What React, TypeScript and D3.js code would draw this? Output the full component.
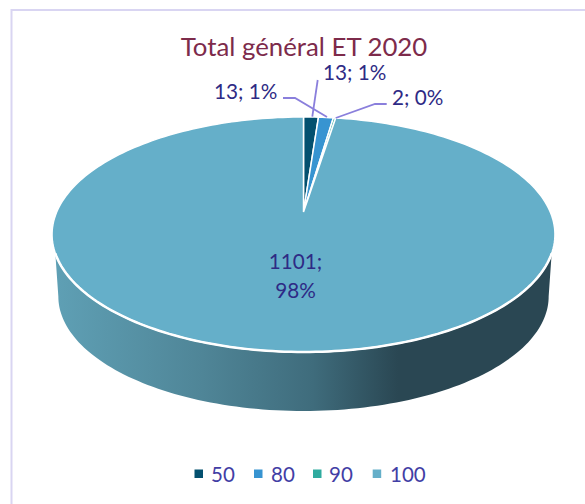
import React from "react";
import * as d3 from "d3";

const title = "Total général ET 2020";
const categories = ["50", "80", "90", "100"];
const values = [13, 13, 2, 1101];
const percents = ["1%", "1%", "0%", "98%"];
const colors = ["#03506f", "#3794d1", "#2fab9f", "#65afc9"];

const CX = 303.5;
const Y0 = 212;
const A = 246.8;
const B = 113.2;
const P = 0.1915;
const FONT = "Lato, sans-serif";

function project(theta: number, level: number): [number, number] {
  const u = Math.sin(theta);
  const v = Math.cos(theta);
  const w = 1 + P * v;
  const s = level === 0 ? 1 : 0.975;
  const y0 = level === 0 ? Y0 : 274.5;
  return [CX + (A * s * u) / w, y0 - (B * s * v) / w];
}

const lineGen = d3.line<[number, number]>();

function arcPts(a0: number, a1: number, level: number, n = 120): [number, number][] {
  return d3.range(n + 1).map((i) => project(a0 + ((a1 - a0) * i) / n, level));
}

export default function App() {
  const pie = d3.pie<number>().sort(null)(values);
  const d2r = Math.PI / 180;
  const rimLeft = 250 * d2r;
  const rimRight = 110 * d2r;
  const baseLeft = 259 * d2r;
  const baseRight = 101 * d2r;
  const wallPath = lineGen([...arcPts(rimRight, rimLeft, 0), ...arcPts(baseLeft, baseRight, 1)]) + "Z";
  const rimPath = lineGen(arcPts(rimRight, rimLeft, 0));

  const labelStyle = { fontFamily: FONT, fontSize: 20.7, fill: "#2e2a85" };
  const leaderColor = "#8a7fdc";

  const legendX = [194.5, 254, 313, 372.7];
  const legendTextX = [211, 271, 329, 390];

  return (
    <svg
      width={585}
      height={504}
      style={{ position: "absolute", left: 0, top: 0, background: "#fff" }}
    >
      <defs>
        <linearGradient id="wall" gradientUnits="userSpaceOnUse" x1={53} x2={553} y1={0} y2={0}>
          <stop offset="0" stopColor="#5fa0b5" />
          <stop offset="0.3" stopColor="#4f8597" />
          <stop offset="0.52" stopColor="#3f6c7c" />
          <stop offset="0.69" stopColor="#2a4753" />
          <stop offset="1" stopColor="#2a4753" />
        </linearGradient>
      </defs>
      <path d="M11.5 504V10H585" fill="none" stroke="#d9d5f2" strokeWidth={2} />
      <path d={wallPath} fill="url(#wall)" />
      {pie.map((s, i) => {
        const pts = arcPts(s.startAngle, s.endAngle, 0, Math.max(4, Math.round((s.endAngle - s.startAngle) * 40)));
        const d = lineGen([[CX, Y0], ...pts]) + "Z";
        return <path key={i} d={d} fill={colors[i]} stroke="#fff" strokeWidth={1.5} />;
      })}
      <path d={rimPath ?? ""} fill="none" stroke="#fff" strokeWidth={2.5} />
      <text x={304} y={56} textAnchor="middle" fontFamily={FONT} fontSize={25.8} fill="#7d2b4b">
        {title}
      </text>
      <polyline points="283,98 295,98 327,117" fill="none" stroke={leaderColor} strokeWidth={1.8} />
      <polyline points="317.7,80 312.3,116.7" fill="none" stroke={leaderColor} strokeWidth={1.8} />
      <polyline points="386.7,104 375,104 335.7,118" fill="none" stroke={leaderColor} strokeWidth={1.8} />
      <text x={214} y={99} {...labelStyle}>{`${values[0]}; ${percents[0]}`}</text>
      <text x={323} y={80} {...labelStyle}>{`${values[1]}; ${percents[1]}`}</text>
      <text x={392} y={105} {...labelStyle}>{`${values[2]}; ${percents[2]}`}</text>
      <text x={295.5} y={269} textAnchor="middle" {...labelStyle}>{`${values[3]};`}</text>
      <text x={295.5} y={298} textAnchor="middle" {...labelStyle}>{percents[3]}</text>
      {categories.map((c, i) => (
        <g key={c}>
          <rect x={legendX[i]} y={469.5} width={8.5} height={8.5} fill={colors[i]} />
          <text x={legendTextX[i]} y={481.5} fontFamily={FONT} fontSize={20.5} fill="#423ea5">
            {c}
          </text>
        </g>
      ))}
    </svg>
  );
}
